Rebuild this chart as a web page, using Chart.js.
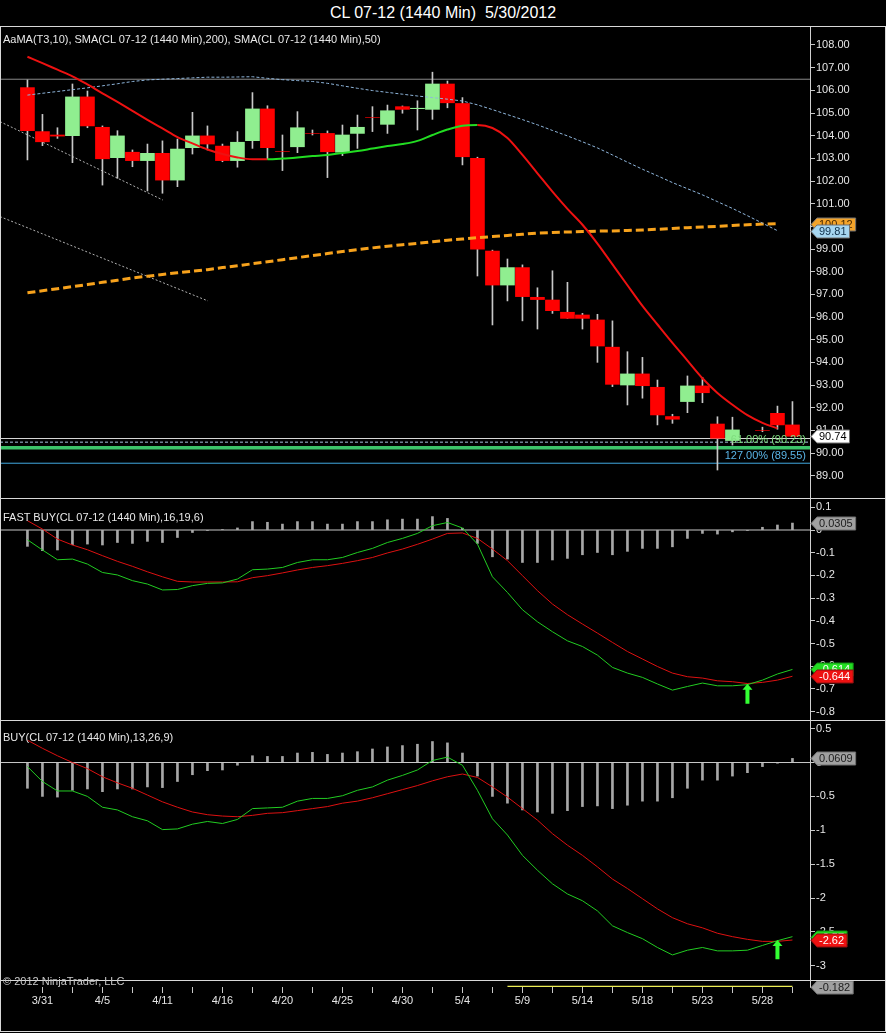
<!DOCTYPE html>
<html>
<head>
<meta charset="utf-8">
<title>CL 07-12 (1440 Min)</title>
<script src="https://cdn.jsdelivr.net/npm/chart.js@4.4.1/dist/chart.umd.min.js"></script>
<style>
    html, body { margin: 0; padding: 0; background: #000; }
    #wrap { position: relative; width: 886px; height: 1033px; background: #000; overflow: hidden;
            font-family: "Liberation Sans", Arial, sans-serif; }
    #wrap canvas { position: absolute; left: 0; display: block; }
    #title { position: absolute; top: 4px; left: 0; width: 886px; text-align: center; color: #fff;
             font-size: 16px; white-space: pre; }
    .sep { position: absolute; left: 0; width: 886px; height: 1px; background: #d8d8d8; }
    .lbl { position: absolute; left: 3px; color: #e8e8e8; font-size: 11px; white-space: nowrap; }
    #frame { position: absolute; left: 0; top: 26px; width: 884px; height: 1004px; border: 1px solid #d8d8d8; }
</style>
</head>
<body>
<div id="wrap">
    <div id="title">CL 07-12 (1440 Min)  5/30/2012</div>
    <canvas id="price-chart" width="886" height="471" style="top:27px"></canvas>
    <canvas id="fast-chart" width="886" height="222" style="top:499px"></canvas>
    <canvas id="buy-chart" width="886" height="259" style="top:721px"></canvas>
    <canvas id="strip-chart" width="886" height="34" style="top:974px"></canvas>
    <div id="frame"></div>
    <div class="sep" style="top:498px"></div>
    <div class="sep" style="top:720px"></div>
    <div class="sep" style="top:980px"></div>
    <div class="lbl" style="top:33px">AaMA(T3,10), SMA(CL 07-12 (1440 Min),200), SMA(CL 07-12 (1440 Min),50)</div>
    <div class="lbl" style="top:511px">FAST BUY(CL 07-12 (1440 Min),16,19,6)</div>
    <div class="lbl" style="top:731px">BUY(CL 07-12 (1440 Min),13,26,9)</div>
    <div class="lbl" style="top:975px;color:#c8c8c8">© 2012 NinjaTrader, LLC</div>
</div>
<script>
// bar index range shown (one daily bar = 15px)
const X_MIN = -1.83, X_MAX = 52.17;

const labelBars = [1, 5, 9, 13, 17, 21, 25, 29, 33, 37, 41, 45, 49];
const dateLabels = ['3/31', '4/5', '4/11', '4/16', '4/20', '4/25', '4/30', '5/4', '5/9', '5/14', '5/18', '5/23', '5/28'];

const opens = [106.12, 104.18, 104.03, 104.00, 105.71, 104.37, 103.03, 103.27, 102.90, 103.22,
    102.04, 103.47, 103.99, 103.54, 102.90, 103.78, 105.18, 103.30, 103.51, 104.10,
    104.10, 103.27, 104.10, 104.80, 104.50, 105.28, 105.19, 105.16, 106.28, 105.42,
    103.00, 98.91, 97.41, 98.18, 96.87, 96.75, 96.21, 96.09, 95.87, 94.67,
    93.00, 93.49, 92.90, 91.61, 92.27, 92.96, 91.28, 90.55, null, 91.00,
    91.75, 91.24];
const highs = [106.46, 104.94, 104.35, 106.28, 105.97, 104.43, 104.22, 103.37, 103.63, 103.77,
    103.85, 105.03, 104.43, 103.63, 104.18, 105.90, 105.32, 104.03, 105.06, 104.25,
    104.21, 104.47, 104.91, 105.28, 105.35, 105.31, 105.54, 106.80, 106.41, 105.68,
    103.05, 98.95, 98.56, 98.30, 97.29, 98.04, 97.53, 96.16, 96.12, 95.83,
    94.47, 94.22, 93.22, 91.71, 93.40, 93.34, 91.60, 91.58, null, 91.14,
    92.07, 92.27];
const lows = [102.93, 103.56, 103.88, 102.81, 104.35, 101.82, 102.12, 102.63, 101.56, 101.46,
    101.75, 103.19, 103.37, 102.85, 102.61, 103.44, 102.96, 102.46, 103.25, 104.03,
    102.15, 103.12, 103.44, 104.18, 104.10, 104.99, 104.25, 104.72, 105.23, 102.71,
    97.81, 95.65, 96.71, 95.83, 95.47, 96.16, 95.94, 95.47, 94.00, 92.93,
    92.12, 92.42, 91.24, 91.31, 91.78, 92.22, 89.25, 90.35, null, 90.94,
    91.05, 90.74];
const closes = [104.22, 103.73, 103.98, 105.71, 104.43, 102.98, 103.99, 102.90, 103.22, 102.04,
    103.41, 103.99, 103.63, 102.90, 103.71, 105.18, 103.47, 103.30, 104.35, 104.10,
    103.29, 104.03, 104.37, 104.80, 105.10, 105.16, 105.21, 106.28, 105.45, 103.07,
    98.99, 97.41, 98.18, 96.90, 96.77, 96.28, 95.94, 95.94, 94.72, 93.03,
    93.49, 92.97, 91.68, 91.49, 92.96, 92.66, 90.65, 91.02, null, 91.00,
    91.24, 90.74];

const aama = [107.48, 107.20, 106.91, 106.62, 106.26, 105.87, 105.49, 105.09, 104.70, 104.32,
    103.94, 103.66, 103.39, 103.19, 103.04, 102.96, 102.96, 102.99, 103.04, 103.10,
    103.15, 103.24, 103.32, 103.43, 103.54, 103.63, 103.77, 104.03, 104.27, 104.44,
    104.47, 104.34, 103.90, 103.15, 102.34, 101.53, 100.77, 100.07, 99.24, 98.32,
    97.40, 96.49, 95.67, 94.86, 94.08, 93.30, 92.65, 92.13, 91.67, 91.33,
    91.09, null];
const sma50 = [105.79, 105.87, 105.95, 106.03, 106.11, 106.20, 106.29, 106.39, 106.46, 106.49,
    106.52, 106.55, 106.58, 106.58, 106.59, 106.60, 106.53, 106.47, 106.43, 106.39,
    106.31, 106.20, 106.09, 105.99, 105.91, 105.83, 105.75, 105.68, 105.61, 105.53,
    105.36, 105.15, 104.93, 104.71, 104.48, 104.23, 103.99, 103.73, 103.46, 103.15,
    102.83, 102.52, 102.23, 101.93, 101.66, 101.39, 101.09, 100.79, 100.47, 100.14,
    99.81, null];
const sma200 = [97.07, 97.16, 97.25, 97.34, 97.43, 97.53, 97.62, 97.72, 97.80, 97.88,
    97.95, 98.02, 98.09, 98.18, 98.26, 98.35, 98.44, 98.53, 98.62, 98.71,
    98.80, 98.89, 98.97, 99.05, 99.12, 99.19, 99.25, 99.32, 99.39, 99.44,
    99.50, 99.55, 99.60, 99.65, 99.70, 99.73, 99.75, 99.77, 99.79, 99.80,
    99.82, 99.84, 99.87, 99.91, 99.94, 99.97, 100.00, 100.04, 100.07, 100.10,
    100.12, null];

const resistanceLevel = 106.49;
const trendLineA = [[-1.83, 104.62], [9.03, 101.16]];
const trendLineB = [[-1.83, 100.43], [12.03, 96.71]];
const fibLevels = [90.64, 90.48, 90.23, 89.55];
const fibTexts = ['', '', '61.00% (90.23)', '127.00% (89.55)'];

const fastHist = [-0.072, -0.091, -0.088, -0.065, -0.062, -0.066, -0.055, -0.059, -0.050, -0.055,
    -0.033, -0.011, -0.002, 0.002, 0.009, 0.037, 0.034, 0.026, 0.037, 0.037,
    0.026, 0.026, 0.037, 0.037, 0.045, 0.048, 0.048, 0.059, 0.051, 0.008,
    -0.059, -0.118, -0.128, -0.143, -0.143, -0.132, -0.125, -0.109, -0.099, -0.109,
    -0.094, -0.081, -0.081, -0.074, -0.037, -0.015, -0.018, -0.008, -0.002, 0.012,
    0.022, 0.0305];
const fastMain = [-0.043, -0.088, -0.131, -0.128, -0.150, -0.187, -0.198, -0.223, -0.238, -0.264,
    -0.262, -0.245, -0.235, -0.233, -0.216, -0.175, -0.172, -0.165, -0.143, -0.131,
    -0.131, -0.121, -0.099, -0.081, -0.055, -0.037, -0.015, 0.019, 0.033, 0.009,
    -0.062, -0.206, -0.275, -0.351, -0.404, -0.448, -0.488, -0.513, -0.551, -0.605,
    -0.630, -0.649, -0.678, -0.705, -0.689, -0.674, -0.686, -0.686, -0.681, -0.661,
    -0.634, -0.614];
const fastSignal = [0.041, 0.004, -0.040, -0.066, -0.087, -0.113, -0.138, -0.160, -0.184, -0.206,
    -0.226, -0.229, -0.229, -0.229, -0.228, -0.210, -0.201, -0.189, -0.176, -0.165,
    -0.157, -0.147, -0.135, -0.121, -0.101, -0.084, -0.063, -0.040, -0.015, -0.013,
    -0.037, -0.084, -0.135, -0.201, -0.267, -0.326, -0.373, -0.414, -0.454, -0.495,
    -0.535, -0.568, -0.601, -0.630, -0.646, -0.652, -0.664, -0.668, -0.676, -0.671,
    -0.661, -0.644];
const fastArrow = [48, -0.765, -0.677];   // bar, tail, tip

const buyHist = [-0.38, -0.50, -0.51, -0.41, -0.39, -0.43, -0.39, -0.39, -0.36, -0.37,
    -0.28, -0.18, -0.12, -0.11, -0.04, 0.10, 0.09, 0.09, 0.14, 0.15,
    0.12, 0.14, 0.16, 0.20, 0.23, 0.25, 0.27, 0.31, 0.29, 0.14,
    -0.20, -0.50, -0.60, -0.70, -0.73, -0.75, -0.71, -0.65, -0.64, -0.68,
    -0.63, -0.57, -0.57, -0.52, -0.38, -0.26, -0.26, -0.20, -0.15, -0.06,
    -0.01, 0.0609];
const buyMain = [-0.06, -0.28, -0.42, -0.42, -0.50, -0.66, -0.70, -0.80, -0.86, -0.99,
    -0.98, -0.91, -0.87, -0.90, -0.84, -0.68, -0.67, -0.66, -0.57, -0.53,
    -0.53, -0.49, -0.41, -0.36, -0.26, -0.19, -0.11, 0.03, 0.08, -0.04,
    -0.41, -0.83, -1.07, -1.37, -1.59, -1.79, -1.94, -2.04, -2.19, -2.41,
    -2.51, -2.60, -2.73, -2.84, -2.77, -2.73, -2.78, -2.78, -2.77, -2.70,
    -2.63, -2.57];
const buySignal = [0.33, 0.21, 0.10, 0.00, -0.09, -0.21, -0.30, -0.38, -0.48, -0.58,
    -0.66, -0.73, -0.77, -0.79, -0.80, -0.78, -0.75, -0.74, -0.71, -0.68,
    -0.65, -0.60, -0.57, -0.52, -0.46, -0.40, -0.34, -0.27, -0.21, -0.17,
    -0.22, -0.36, -0.51, -0.68, -0.85, -1.05, -1.22, -1.37, -1.54, -1.72,
    -1.86, -2.01, -2.16, -2.29, -2.38, -2.44, -2.52, -2.57, -2.61, -2.64,
    -2.64, -2.62];
const buyArrow = [50, -2.905, -2.62];

const stripValues = [null, null, null, null, null, null, null, null, null, null,
    null, null, null, null, null, null, null, null, null, null,
    null, null, null, null, null, null, null, null, null, null,
    null, null, -0.182, -0.182, -0.182, -0.182, -0.182, -0.182, -0.182, -0.182,
    -0.182, -0.182, -0.182, -0.182, -0.182, -0.182, -0.182, -0.182, -0.182, -0.182,
    -0.182, -0.182];

const UP = '#90ee90', DOWN = '#ff0000', MAIN = '#22cc22', SIGNAL = '#dd1111';

Chart.defaults.font.family = '"Liberation Sans", Arial, sans-serif';
Chart.defaults.font.size = 11;
Chart.defaults.animation = false;

const pts = arr => arr.map((v, i) => ({x: i, y: v}));
const hline = v => [{x: X_MIN, y: v}, {x: X_MAX, y: v}];
const lastOf = arr => arr.filter(v => v !== null).slice(-1)[0];
const num = v => String(+v.toFixed(2));

function line(data, color, extra) {
    return Object.assign({type: 'line', data: data, borderColor: color, borderWidth: 1,
        pointRadius: 0, tension: 0, spanGaps: false, order: 1}, extra || {});
}

function barAxis() {
    return {type: 'linear', min: X_MIN, max: X_MAX, offset: false, display: false};
}

function valueAxis(min, max, step, fmt) {
    return {
        type: 'linear', position: 'right', min: min, max: max,
        grid: {drawOnChartArea: false, drawTicks: true, tickLength: 5, tickColor: '#c8c8c8'},
        border: {display: true, color: '#d0d0d0'},
        ticks: {stepSize: step, includeBounds: false, color: '#e6e6e6', padding: 1, callback: fmt},
        afterFit(scale) { scale.width = 76; scale.paddingTop = 0; scale.paddingBottom = 0; }
    };
}

// value tags on the right axis
const tagPlugin = {
    id: 'tags',
    afterDraw(chart, args, opts) {
        const ctx = chart.ctx, ys = chart.scales.y, x0 = chart.chartArea.right;
        ctx.save();
        ctx.font = '11px "Liberation Sans", Arial, sans-serif';
        (opts.items || []).forEach(t => {
            const py = Math.round(ys.getPixelForValue(t.value)) + 0.5;
            const w = ctx.measureText(t.text).width + 5;
            ctx.beginPath();
            ctx.moveTo(x0 + 1, py);
            ctx.lineTo(x0 + 7, py - 6.5);
            ctx.lineTo(x0 + 7 + w, py - 6.5);
            ctx.lineTo(x0 + 7 + w, py + 6.5);
            ctx.lineTo(x0 + 7, py + 6.5);
            ctx.closePath();
            ctx.fillStyle = t.bg;
            ctx.fill();
            ctx.strokeStyle = t.edge || '#707070';
            ctx.lineWidth = 1;
            ctx.stroke();
            ctx.fillStyle = t.fg;
            ctx.textAlign = 'left';
            ctx.textBaseline = 'middle';
            ctx.fillText(t.text, x0 + 9, py + 0.5);
        });
        ctx.restore();
    }
};

// buy signal arrow
const arrowPlugin = {
    id: 'arrow',
    afterDatasetsDraw(chart, args, opts) {
        if (!opts.at) return;
        const ctx = chart.ctx;
        const px = chart.scales.x.getPixelForValue(opts.at[0]);
        const tail = chart.scales.y.getPixelForValue(opts.at[1]);
        const tip = chart.scales.y.getPixelForValue(opts.at[2]);
        ctx.save();
        ctx.fillStyle = '#33ff33';
        ctx.beginPath();
        ctx.moveTo(px, tip);
        ctx.lineTo(px + 5, tip + 6);
        ctx.lineTo(px + 2, tip + 6);
        ctx.lineTo(px + 2, tail);
        ctx.lineTo(px - 2, tail);
        ctx.lineTo(px - 2, tip + 6);
        ctx.lineTo(px - 5, tip + 6);
        ctx.closePath();
        ctx.fill();
        ctx.restore();
    }
};

// fibonacci level captions
const fibTextPlugin = {
    id: 'fibText',
    afterDatasetsDraw(chart, args, opts) {
        const ctx = chart.ctx, ys = chart.scales.y;
        ctx.save();
        ctx.font = '11px "Liberation Sans", Arial, sans-serif';
        ctx.textAlign = 'right';
        ctx.textBaseline = 'middle';
        (opts.items || []).forEach(t => {
            if (!t.text) return;
            ctx.fillStyle = t.color;
            ctx.fillText(t.text, chart.chartArea.right - 4, ys.getPixelForValue(t.value) - 7.5);
        });
        ctx.restore();
    }
};

const candleIdx = opens.map((o, i) => i).filter(i => opens[i] !== null);
const fibColors = ['#d8d8d8', '#a8c4e0', '#3cc46a', '#40a8e0'];
const fibTextColors = ['', '', '#7fdc7f', '#5ab4e6'];

const priceDatasets = [
    {type: 'bar', data: candleIdx.map(i => ({x: i, y: [lows[i], highs[i]]})),
        backgroundColor: '#c8c8c8', barThickness: 1, grouped: false, order: 3},
    {type: 'bar', data: candleIdx.map(i => ({x: i, y: [opens[i], closes[i]]})),
        backgroundColor: ctx => (ctx.raw && ctx.raw.y[1] > ctx.raw.y[0]) ? UP : DOWN,
        barThickness: 14, grouped: false, order: 2},
    line(pts(aama), DOWN, {borderWidth: 2, cubicInterpolationMode: 'monotone', order: 0,
        segment: {borderColor: c => c.p1.parsed.y > c.p0.parsed.y ? '#22dd22' : '#ee1111'}}),
    line(pts(sma50), '#8fb6dc', {borderDash: [3, 2], order: 1}),
    line(pts(sma200), '#f7a21c', {borderWidth: 3, borderDash: [8, 4], order: 1}),
    line(hline(resistanceLevel), '#8a8a8a', {order: 5}),
    line(trendLineA.map(p => ({x: p[0], y: p[1]})), '#b0b0b0', {borderDash: [2, 2], order: 5}),
    line(trendLineB.map(p => ({x: p[0], y: p[1]})), '#b0b0b0', {borderDash: [2, 2], order: 5})
];
fibLevels.forEach((lv, k) => {
    priceDatasets.push(line(hline(lv), fibColors[k], {
        borderWidth: k === 2 ? 3.5 : 1, borderDash: k === 1 ? [3, 2] : [], order: 5}));
});

new Chart(document.getElementById('price-chart'), {
    type: 'bar',
    data: {datasets: priceDatasets},
    options: {
        responsive: false,
        layout: {padding: 0},
        scales: {
            x: barAxis(),
            y: valueAxis(88.016, 108.794, 1, v => v.toFixed(2))
        },
        plugins: {
            legend: {display: false}, tooltip: {enabled: false},
            fibText: {items: fibLevels.map((lv, k) => ({value: lv, text: fibTexts[k], color: fibTextColors[k]}))},
            tags: {items: [
                {value: lastOf(sma200), text: lastOf(sma200).toFixed(2), bg: '#f4a42a', fg: '#4a2a00'},
                {value: lastOf(sma50), text: lastOf(sma50).toFixed(2), bg: '#a6d6f0', fg: '#10304a'},
                {value: lastOf(closes), text: lastOf(closes).toFixed(2), bg: '#ffffff', fg: '#000000'}
            ]}
        }
    },
    plugins: [tagPlugin, fibTextPlugin]
});

function oscillator(canvasId, hist, main, signal, min, max, step, arrow, digits) {
    new Chart(document.getElementById(canvasId), {
        type: 'bar',
        data: {datasets: [
            {type: 'bar', data: pts(hist), backgroundColor: '#a8a8a8', barThickness: 2, grouped: false, order: 3},
            line(hline(0), '#c8c8c8', {order: 2}),
            line(pts(signal), SIGNAL, {order: 1}),
            line(pts(main), MAIN, {order: 0})
        ]},
        options: {
            responsive: false,
            layout: {padding: 0},
            scales: {x: barAxis(), y: valueAxis(min, max, step, num)},
            plugins: {
                legend: {display: false}, tooltip: {enabled: false},
                arrow: {at: arrow},
                tags: {items: [
                    {value: lastOf(hist), text: lastOf(hist).toFixed(4), bg: '#a0a0a0', fg: '#202020'},
                    {value: lastOf(main), text: lastOf(main).toFixed(digits), bg: '#22dd22', fg: '#ffffff', edge: '#118811'},
                    {value: lastOf(signal), text: lastOf(signal).toFixed(digits), bg: '#ee1111', fg: '#ffffff', edge: '#881111'}
                ]}
            }
        },
        plugins: [tagPlugin, arrowPlugin]
    });
}

oscillator('fast-chart', fastHist, fastMain, fastSignal, -0.841, 0.1365, 0.1, fastArrow, 3);
oscillator('buy-chart', buyHist, buyMain, buySignal, -3.21, 0.613, 0.5, buyArrow, 2);

// odd bars carry a tick mark, every other one a date
const tickBars = [];
for (let b = 1; b <= 51; b += 2) tickBars.push(b);

new Chart(document.getElementById('strip-chart'), {
    type: 'line',
    data: {datasets: [line(pts(stripValues), '#eeee55', {borderWidth: 2})]},
    options: {
        responsive: false,
        layout: {padding: {top: 6}},
        scales: {
            x: {
                type: 'linear', min: X_MIN, max: X_MAX, offset: false, position: 'bottom',
                grid: {display: true, drawOnChartArea: false, drawTicks: true, tickLength: 6, tickColor: '#c8c8c8'},
                border: {display: false},
                ticks: {color: '#e6e6e6', padding: 1, autoSkip: false, maxRotation: 0,
                    callback: v => { const k = labelBars.indexOf(v); return k >= 0 ? dateLabels[k] : ''; }},
                afterBuildTicks(scale) { scale.ticks = tickBars.map(b => ({value: b})); },
                afterFit(scale) { scale.height = 21; scale.paddingLeft = 0; scale.paddingRight = 0; }
            },
            y: {
                type: 'linear', position: 'right', min: -0.2, max: 0.2,
                grid: {display: false}, ticks: {display: false},
                border: {display: true, color: '#d0d0d0'},
                afterFit(scale) { scale.width = 76; scale.paddingTop = 0; scale.paddingBottom = 0; }
            }
        },
        plugins: {
            legend: {display: false}, tooltip: {enabled: false},
            tags: {items: [{value: lastOf(stripValues), text: lastOf(stripValues).toFixed(3), bg: '#a0a0a0', fg: '#202020'}]}
        }
    },
    plugins: [tagPlugin]
});
</script>
</body>
</html>
